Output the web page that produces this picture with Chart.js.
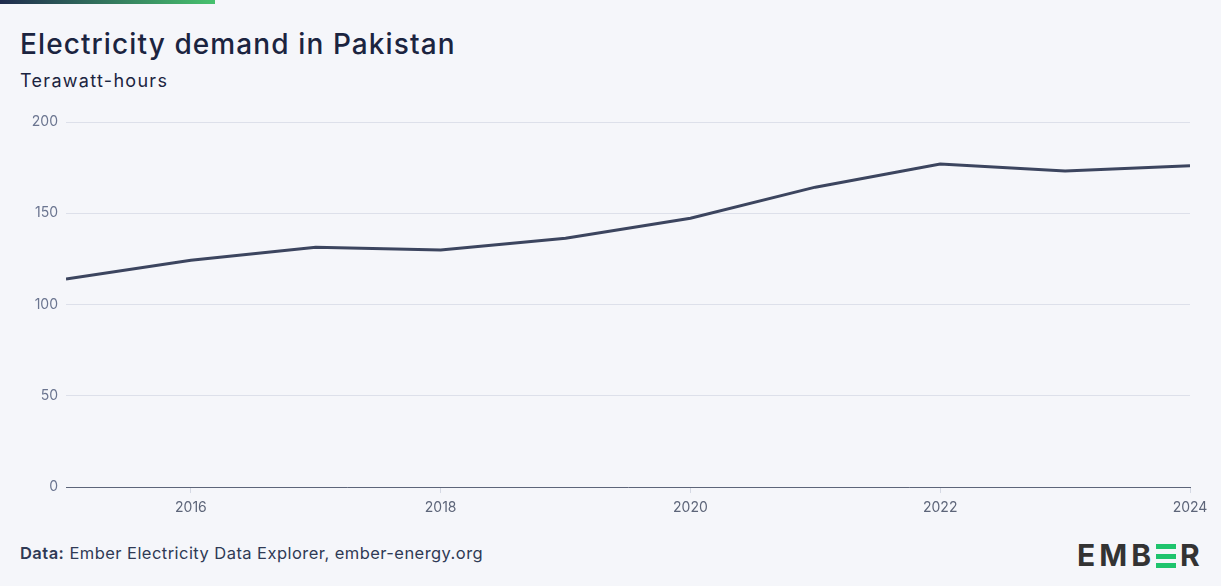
<!DOCTYPE html>
<html>
<head>
<meta charset="utf-8">
<script src="https://cdn.jsdelivr.net/npm/chart.js@4"></script>
<style>
  html, body { margin: 0; padding: 0; }
  body { width: 1221px; height: 586px; background: #f5f6fa; position: relative; overflow: hidden; font-family: "Inter", "Lato", sans-serif; }
  .topbar { position: absolute; left: 0; top: 0; width: 215px; height: 4px; background: linear-gradient(90deg, #1f2b4d, #47c26e); }
  h1 { position: absolute; left: 20px; top: 27px; margin: 0; font-size: 28px; font-weight: 500; color: #1b2440; letter-spacing: 1.1px; }
  .sub { position: absolute; left: 20px; top: 70px; font-size: 18px; color: #1b2440; letter-spacing: 1.3px; }
  .chartbox { position: absolute; left: 0; top: 100px; width: 1221px; height: 430px; }
  .foot { position: absolute; left: 20px; top: 543px; font-size: 16.5px; color: #2f3a55; letter-spacing: 0.45px; }
  .foot b { font-weight: 600; }
  .logo { position: absolute; left: 1077px; top: 540px; font-family: "Inter", sans-serif; font-weight: 700; font-size: 30px; color: #333333; letter-spacing: 4px; line-height: 30px; }
  .logo .e3 { display: inline-block; width: 20px; height: 24px; vertical-align: -2px; margin: 0 4px 0 1px; position: relative; }
  .logo .e3 i { position: absolute; left: 0; width: 20px; height: 5px; background: #1fc46d; }
</style>
</head>
<body>
<div class="topbar"></div>
<h1>Electricity demand in Pakistan</h1>
<div class="sub">Terawatt-hours</div>
<div class="chartbox"><canvas id="chart"></canvas></div>
<div class="foot"><b>Data:</b> Ember Electricity Data Explorer, ember-energy.org</div>
<div class="logo">EMB<span class="e3"><i style="top:0"></i><i style="top:9.5px"></i><i style="top:19px"></i></span>R</div>
<script>
var years = [2015, 2016, 2017, 2018, 2019, 2020, 2021, 2022, 2023, 2024];
var demand = [114.0, 124.3, 131.4, 129.9, 136.3, 147.3, 164.3, 177.0, 173.1, 176.0];
var xTicks = [2016, 2018, 2020, 2022, 2024];
var yTicks = [0, 50, 100, 150, 200];

var points = [];
for (var i = 0; i < years.length; i++) {
    points.push({ x: years[i], y: demand[i] });
}

var ctx = document.getElementById('chart').getContext('2d');
var chart = new Chart(ctx, {
    type: 'line',
    data: {
        datasets: [{
            data: points,
            borderColor: '#3c455f',
            borderWidth: 3,
            pointRadius: 0,
            tension: 0,
            fill: false
        }]
    },
    options: {
        responsive: true,
        maintainAspectRatio: false,
        animation: false,
        layout: { padding: { left: 0, right: 31, top: 22, bottom: 0 } },
        plugins: { legend: { display: false }, tooltip: { enabled: false } },
        scales: {
            x: {
                type: 'linear',
                min: 2015,
                max: 2024,
                afterBuildTicks: function(scale) {
                    scale.ticks = xTicks.map(function(v) { return { value: v }; });
                },
                afterFit: function(scale) { scale.height = 43; },
                grid: {
                    drawOnChartArea: false,
                    drawTicks: true,
                    tickLength: 6,
                    color: '#d5d9e4'
                },
                border: { display: true, color: '#5d6579', width: 1 },
                ticks: {
                    padding: 6,
                    color: '#5d6579',
                    font: { family: 'Inter', size: 14 },
                    maxRotation: 0,
                    callback: function(v) { return String(v); }
                }
            },
            y: {
                min: 0,
                max: 200,
                afterBuildTicks: function(scale) {
                    scale.ticks = yTicks.map(function(v) { return { value: v }; });
                },
                afterFit: function(scale) { scale.width = 66; },
                grid: { color: '#dde0ea', drawTicks: false, lineWidth: 1 },
                border: { display: false },
                ticks: {
                    padding: 8,
                    color: '#6b7590',
                    font: { family: 'Inter', size: 14 }
                }
            }
        }
    }
});
</script>
</body>
</html>
